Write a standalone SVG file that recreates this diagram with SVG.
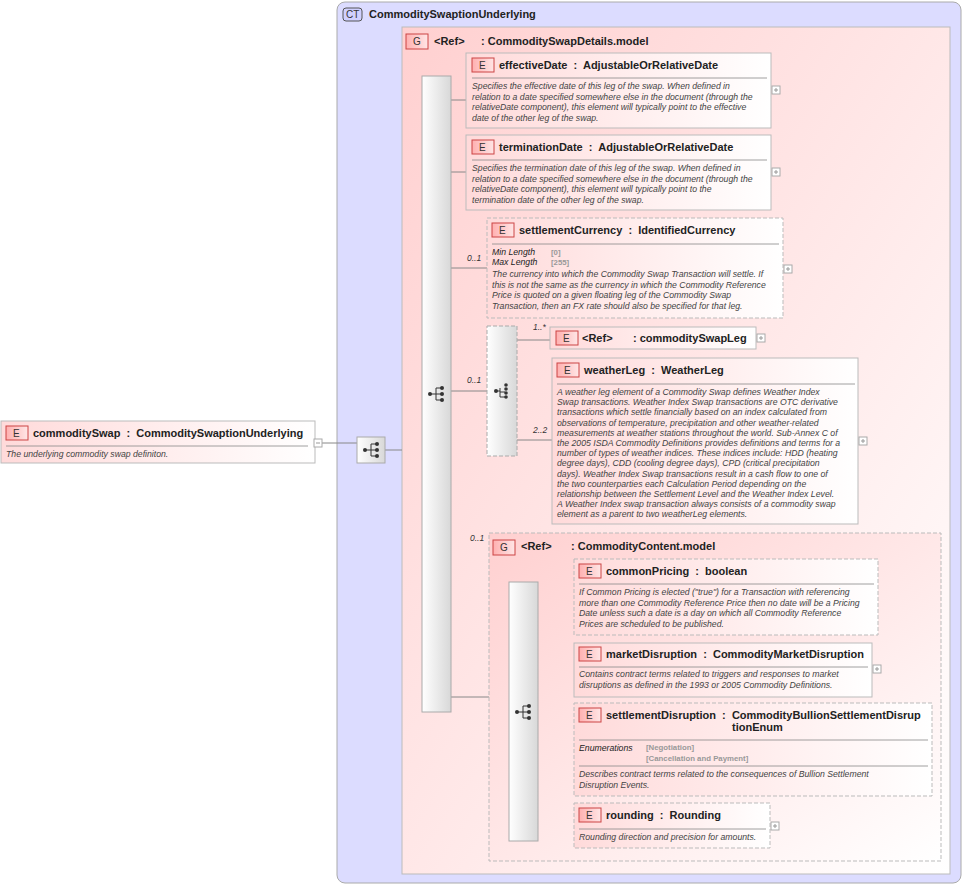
<svg xmlns="http://www.w3.org/2000/svg" width="965" height="887" viewBox="0 0 965 887">
<defs>
<linearGradient id="eg" x1="0" y1="0" x2="1" y2="0"><stop offset="0" stop-color="#ffdada"/><stop offset="1" stop-color="#ffffff"/></linearGradient>
<linearGradient id="gg" x1="0" y1="0" x2="1" y2="1"><stop offset="0" stop-color="#ffd0d0"/><stop offset="1" stop-color="#ffffff"/></linearGradient>
<linearGradient id="bar" x1="0" y1="0" x2="1" y2="0"><stop offset="0" stop-color="#ffffff"/><stop offset="1" stop-color="#d8d8d8"/></linearGradient>
<linearGradient id="badge" x1="0" y1="0" x2="1" y2="0"><stop offset="0" stop-color="#ffb0b0"/><stop offset="1" stop-color="#ffe6e6"/></linearGradient>
<g id="seqicon"><line x1="-7" y1="0" x2="-1" y2="0" stroke="#333"/><path d="M-1 -6 V6 M-1 -6 H4 M-1 0 H4 M-1 6 H4" stroke="#333" fill="none"/><circle cx="-7" cy="0" r="2" fill="#333"/><circle cx="5" cy="-6" r="2" fill="#333"/><circle cx="5" cy="0" r="2" fill="#333"/><circle cx="5" cy="6" r="2" fill="#333"/></g>
<g id="plus"><rect x="0" y="0" width="8" height="8" fill="#fff" stroke="#aaa"/><path d="M2 4 H6 M4 2 V6" stroke="#999"/></g>
</defs>
<style>
text{font-family:"Liberation Sans",Arial,sans-serif}
.t{font-size:11px;font-weight:bold;fill:#222;white-space:pre}
.d{font-size:8.7px;font-style:italic;fill:#444}
.k{font-size:8.7px;font-style:italic;fill:#222}
.v{font-size:7.8px;fill:#999;font-weight:bold}
.c{font-size:8.5px;font-style:italic;fill:#333}
.b{font-size:10px;fill:#333}
.box{fill:url(#eg);stroke:#bbb}
.dash{fill:url(#eg);stroke:#bbb;stroke-dasharray:4 2}
.sep{stroke:#888;stroke-width:0.8}
.ln{stroke:#888;fill:none}
.bd{fill:url(#badge);stroke:#c44}
</style>
<g id="ct">
<rect x="337" y="2" width="624" height="881" rx="8" fill="#dcdcff" stroke="#aaa"/>
<rect x="343" y="8" width="19" height="13" rx="3" fill="#d0d0ff" stroke="#555"/><text x="346" y="18" class="b">CT</text>
<text x="369" y="18" class="t">CommoditySwaptionUnderlying</text>
</g>
<g id="g1">
<rect x="402" y="27" width="548" height="847" fill="url(#gg)" stroke="#bbb"/>
<rect x="406" y="34" width="22" height="15" class="bd"/><text x="413" y="45" class="b">G</text>
<text x="434" y="45" class="t">&lt;Ref&gt;</text><text x="481" y="45" class="t">: CommoditySwapDetails.model</text>
</g>
<g id="connectors">
<path class="ln" d="M320 443 H357 M385 450 H402 M451 100 H466 M451 172 H466 M451 268 H487 M451 391 H487 M451 697 H489 M517 340 H550 M517 440 H552 M538 598 H574 M538 669 H574 M538 751 H574 M538 825 H574"/>
<text x="467" y="261" class="c">0..1</text><text x="467" y="383" class="c">0..1</text>
<text x="533" y="330" class="c">1..*</text><text x="533" y="433" class="c">2..2</text>
<text x="470" y="541" class="c">0..1</text>
<text x="555" y="589" class="c">0..1</text><text x="555" y="661" class="c">0..1</text><text x="555" y="742" class="c">0..1</text><text x="555" y="818" class="c">0..1</text>
</g>
<g id="commoditySwap">
<rect x="1" y="421" width="314" height="42" class="box"/>
<rect x="6" y="426" width="22" height="14" class="bd"/><text x="13" y="437" class="b">E</text>
<text x="33" y="437" class="t">commoditySwap  :  CommoditySwaptionUnderlying</text>
<line x1="6" y1="446" x2="308" y2="446" class="sep"/>
<text x="6" y="457" class="d">The underlying commodity swap definiton.</text>
<rect x="314" y="439" width="8" height="8" fill="#fff" stroke="#aaa"/><path d="M316 443 H320" stroke="#999"/>
</g>
<g id="seq0"><rect x="357" y="437" width="28" height="26" fill="url(#bar)" stroke="#aaa"/><use href="#seqicon" x="372" y="450"/></g>
<g id="seq1"><rect x="422" y="76" width="29" height="636" fill="url(#bar)" stroke="#aaa"/><use href="#seqicon" x="437" y="394"/></g>
<g id="effectiveDate">
<rect x="466" y="53" width="305" height="75" class="box"/>
<rect x="472" y="58" width="22" height="14" class="bd"/><text x="479" y="69" class="b">E</text>
<text x="499" y="69" class="t">effectiveDate  :  AdjustableOrRelativeDate</text>
<line x1="472" y1="78" x2="767" y2="78" class="sep"/>
<text class="d"><tspan x="472" y="89">Specifies the effective date of this leg of the swap. When defined in</tspan><tspan x="472" y="99.5">relation to a date specified somewhere else in the document (through the</tspan><tspan x="472" y="110">relativeDate component), this element will typically point to the effective</tspan><tspan x="472" y="120.5">date of the other leg of the swap.</tspan></text>
<use href="#plus" x="772" y="86"/>
</g>
<g id="terminationDate">
<rect x="466" y="135" width="305" height="75" class="box"/>
<rect x="472" y="140" width="22" height="14" class="bd"/><text x="479" y="151" class="b">E</text>
<text x="499" y="151" class="t">terminationDate  :  AdjustableOrRelativeDate</text>
<line x1="472" y1="160" x2="767" y2="160" class="sep"/>
<text class="d"><tspan x="472" y="171">Specifies the termination date of this leg of the swap. When defined in</tspan><tspan x="472" y="181.5">relation to a date specified somewhere else in the document (through the</tspan><tspan x="472" y="192">relativeDate component), this element will typically point to the</tspan><tspan x="472" y="202.5">termination date of the other leg of the swap.</tspan></text>
<use href="#plus" x="772" y="168"/>
</g>
<g id="settlementCurrency">
<rect x="487" y="218" width="296" height="100" class="dash"/>
<rect x="492" y="223" width="22" height="14" class="bd"/><text x="499" y="234" class="b">E</text>
<text x="519" y="234" class="t">settlementCurrency  :  IdentifiedCurrency</text>
<line x1="492" y1="244" x2="779" y2="244" class="sep"/>
<text x="492" y="255" class="k">Min Length</text><text x="551" y="255" class="v">[0]</text>
<text x="492" y="264.5" class="k">Max Length</text><text x="551" y="264.5" class="v">[255]</text>
<text class="d"><tspan x="492" y="277">The currency into which the Commodity Swap Transaction will settle. If</tspan><tspan x="492" y="287.5">this is not the same as the currency in which the Commodity Reference</tspan><tspan x="492" y="298">Price is quoted on a given floating leg of the Commodity Swap</tspan><tspan x="492" y="308.5">Transaction, then an FX rate should also be specified for that leg.</tspan></text>
<use href="#plus" x="784" y="265"/>
</g>
<g id="choice"><rect x="487" y="326" width="30" height="130" fill="url(#bar)" stroke="#aaa" stroke-dasharray="4 2"/>
<g transform="translate(502,391)"><line x1="-7" y1="0" x2="-2" y2="0" stroke="#333"/><circle cx="-6" cy="0" r="2" fill="#333"/><path d="M-2 -3 V6 H3 M-2 1 H3" stroke="#333" fill="none"/><circle cx="4" cy="-6" r="1.8" fill="#333"/><circle cx="4" cy="-2" r="1.8" fill="#333"/><circle cx="4" cy="2" r="1.8" fill="#333"/><circle cx="4" cy="6" r="1.8" fill="#333"/></g></g>
<g id="commoditySwapLeg">
<rect x="550" y="327" width="206" height="22" class="box"/>
<rect x="556" y="331" width="22" height="14" class="bd"/><text x="563" y="342" class="b">E</text>
<text x="582" y="342" class="t">&lt;Ref&gt;</text><text x="633" y="342" class="t">: commoditySwapLeg</text>
<use href="#plus" x="757" y="334"/>
</g>
<g id="weatherLeg">
<rect x="552" y="358" width="306" height="166" class="box"/>
<rect x="557" y="363" width="22" height="14" class="bd"/><text x="564" y="374" class="b">E</text>
<text x="584" y="374" class="t">weatherLeg  :  WeatherLeg</text>
<line x1="557" y1="384" x2="855" y2="384" class="sep"/>
<text class="d"><tspan x="557" y="395">A weather leg element of a Commodity Swap defines Weather Index</tspan><tspan x="557" y="405.2">Swap transactions. Weather Index Swap transactions are OTC derivative</tspan><tspan x="557" y="415.4">transactions which settle financially based on an index calculated from</tspan><tspan x="557" y="425.6">observations of temperature, precipitation and other weather-related</tspan><tspan x="557" y="435.8">measurements at weather stations throughout the world. Sub-Annex C of</tspan><tspan x="557" y="446">the 2005 ISDA Commodity Definitions provides definitions and terms for a</tspan><tspan x="557" y="456.2">number of types of weather indices. These indices include: HDD (heating</tspan><tspan x="557" y="466.4">degree days), CDD (cooling degree days), CPD (critical precipitation</tspan><tspan x="557" y="476.6">days). Weather Index Swap transactions result in a cash flow to one of</tspan><tspan x="557" y="486.8">the two counterparties each Calculation Period depending on the</tspan><tspan x="557" y="497">relationship between the Settlement Level and the Weather Index Level.</tspan><tspan x="557" y="507.2">A Weather Index swap transaction always consists of a commodity swap</tspan><tspan x="557" y="517.4">element as a parent to two weatherLeg elements.</tspan></text>
<use href="#plus" x="859" y="437"/>
</g>
<g id="g2">
<rect x="489" y="533" width="452" height="328" fill="url(#gg)" stroke="#bbb" stroke-dasharray="4 2"/>
<rect x="493" y="540" width="22" height="15" class="bd"/><text x="500" y="551" class="b">G</text>
<text x="521" y="550" class="t">&lt;Ref&gt;</text><text x="571" y="550" class="t">: CommodityContent.model</text>
</g>
<g id="seq2"><rect x="509" y="582" width="29" height="259" fill="url(#bar)" stroke="#aaa"/><use href="#seqicon" x="524" y="712"/></g>
<g id="commonPricing">
<rect x="574" y="559" width="304" height="76" class="dash"/>
<rect x="579" y="564" width="22" height="14" class="bd"/><text x="586" y="575" class="b">E</text>
<text x="606" y="575" class="t">commonPricing  :  boolean</text>
<line x1="579" y1="584" x2="874" y2="584" class="sep"/>
<text class="d"><tspan x="579" y="595">If Common Pricing is elected ("true") for a Transaction with referencing</tspan><tspan x="579" y="605.5">more than one Commodity Reference Price then no date will be a Pricing</tspan><tspan x="579" y="616">Date unless such a date is a day on which all Commodity Reference</tspan><tspan x="579" y="626.5">Prices are scheduled to be published.</tspan></text>
</g>
<g id="marketDisruption">
<rect x="574" y="643" width="298" height="54" class="box"/>
<rect x="579" y="647" width="22" height="14" class="bd"/><text x="586" y="658" class="b">E</text>
<text x="606" y="658" class="t">marketDisruption  :  CommodityMarketDisruption</text>
<line x1="579" y1="667" x2="868" y2="667" class="sep"/>
<text class="d"><tspan x="579" y="677">Contains contract terms related to triggers and responses to market</tspan><tspan x="579" y="687.5">disruptions as defined in the 1993 or 2005 Commodity Definitions.</tspan></text>
<use href="#plus" x="873" y="665"/>
</g>
<g id="settlementDisruption">
<rect x="574" y="703" width="358" height="93" class="dash"/>
<rect x="579" y="708" width="22" height="14" class="bd"/><text x="586" y="719" class="b">E</text>
<text x="606" y="719" class="t">settlementDisruption  :  CommodityBullionSettlementDisrup</text>
<text x="732" y="731" class="t">tionEnum</text>
<line x1="579" y1="740" x2="928" y2="740" class="sep"/>
<text x="579" y="751" class="k">Enumerations</text><text x="646" y="750" class="v">[Negotiation]</text><text x="646" y="761" class="v">[Cancellation and Payment]</text>
<line x1="579" y1="766" x2="928" y2="766" class="sep"/>
<text class="d"><tspan x="579" y="777">Describes contract terms related to the consequences of Bullion Settlement</tspan><tspan x="579" y="787.5">Disruption Events.</tspan></text>
</g>
<g id="rounding">
<rect x="574" y="803" width="196" height="45" class="dash"/>
<rect x="579" y="808" width="22" height="14" class="bd"/><text x="586" y="819" class="b">E</text>
<text x="606" y="819" class="t">rounding  :  Rounding</text>
<line x1="579" y1="829" x2="766" y2="829" class="sep"/>
<text x="579" y="840" class="d">Rounding direction and precision for amounts.</text>
<use href="#plus" x="771" y="822"/>
</g>
</svg>
